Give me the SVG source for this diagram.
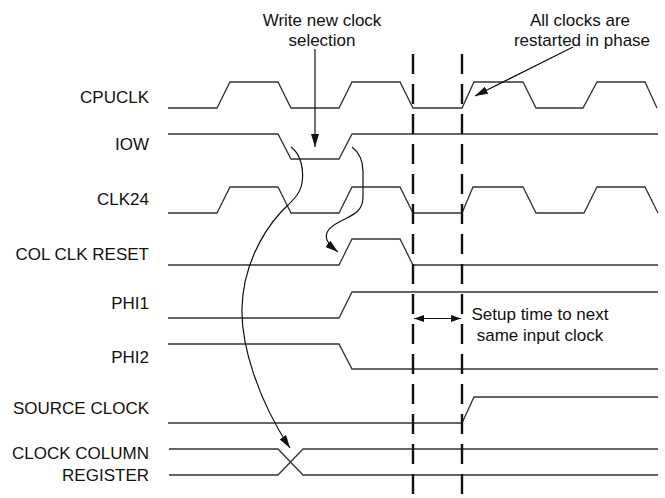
<svg xmlns="http://www.w3.org/2000/svg" width="665" height="498" viewBox="0 0 665 498">
<defs>
<style>
text{font-family:"Liberation Sans",Arial,sans-serif;font-size:17px;fill:#111}
.lbl{text-anchor:end}
.ann{text-anchor:middle}
.wave{fill:none;stroke:#333;stroke-width:1.3}
.arr{fill:none;stroke:#111;stroke-width:1.2}
.dash{fill:none;stroke:#111;stroke-width:2.4;stroke-dasharray:20 10}
</style>
<marker id="ah" viewBox="0 0 13 8" refX="13" refY="4" markerWidth="13" markerHeight="8" orient="auto-start-reverse" markerUnits="userSpaceOnUse">
<path d="M0,0 L13,4 L0,8 Z" fill="#111"/>
</marker>
<marker id="ahs" viewBox="0 0 10 7" refX="10" refY="3.5" markerWidth="10" markerHeight="7" orient="auto-start-reverse" markerUnits="userSpaceOnUse">
<path d="M0,0 L10,3.5 L0,7 Z" fill="#111"/>
</marker>
</defs>
<rect width="665" height="498" fill="#fff"/>

<g id="sig-cpuclk">
<text class="lbl" x="149" y="102.5">CPUCLK</text>
<path class="wave" d="M168,108 H217 L230,82 H278 L291,108 H339 L352,82 H400 L413,108 H462 L474,82 H523 L536,108 H583 L597,82 H645 L657,108"/>
</g>
<g id="sig-iow">
<text class="lbl" x="149" y="150">IOW</text>
<path class="wave" d="M168,134 H278 L291,159 H339 L352,134 H658"/>
</g>
<g id="sig-clk24">
<text class="lbl" x="149" y="205">CLK24</text>
<path class="wave" d="M168,213 H217 L230,187 H278 L291,213 H339 L352,187 H400 L413,213 H462 L473,187 H523 L536,213 H584 L597,187 H645 L658,213"/>
</g>
<g id="sig-colclkreset">
<text class="lbl" x="149" y="260">COL CLK RESET</text>
<path class="wave" d="M168,265 H339 L352,239 H400 L413,265 H658"/>
</g>
<g id="sig-phi1">
<text class="lbl" x="149" y="309">PHI1</text>
<path class="wave" d="M168,318 H339 L352,292 H658"/>
</g>
<g id="sig-phi2">
<text class="lbl" x="149" y="363">PHI2</text>
<path class="wave" d="M168,344 H339 L352,369 H658"/>
</g>
<g id="sig-sourceclock">
<text class="lbl" x="149" y="414">SOURCE CLOCK</text>
<path class="wave" d="M168,423 H462 L474,397 H658"/>
</g>
<g id="sig-ccr">
<text class="lbl" x="149" y="459">CLOCK COLUMN</text>
<text class="lbl" x="149" y="481">REGISTER</text>
<path class="wave" d="M169,449 H278 L303,475 H658 M169,475 H278 L303,449 H658"/>
</g>

<g id="note-write">
<text class="ann" x="322" y="25.5">Write new clock</text>
<text class="ann" x="322" y="46">selection</text>
</g>
<g id="note-restart">
<text class="ann" x="580" y="26">All clocks are</text>
<text class="ann" x="582" y="46">restarted in phase</text>
</g>
<g id="note-setup">
<text class="ann" x="540" y="320">Setup time to next</text>
<text class="ann" x="540" y="341">same input clock</text>
</g>

<g id="connectors">
<line class="dash" x1="413" y1="54" x2="413" y2="498"/>
<line class="dash" x1="462" y1="54" x2="462" y2="498"/>
<line class="arr" x1="315" y1="49" x2="315" y2="147" marker-end="url(#ah)"/>
<line class="arr" x1="573" y1="47" x2="475" y2="96" marker-end="url(#ah)"/>
<path class="arr" d="M291,147 C301,154 304,170 302,183 C300,195 291,202 281,212 C261,234 243,268 242,308 C241,345 258,400 290,448" marker-end="url(#ah)"/>
<path class="arr" d="M352,147 C360,153 363,162 363,172 L363,197 C363,210 355,214 345,219 C330,226 324,232 327,240 C329,245 333,248 338,252" marker-end="url(#ah)"/>
<line class="arr" x1="414" y1="318.5" x2="461" y2="318.5" marker-start="url(#ahs)" marker-end="url(#ahs)"/>
</g>
</svg>
